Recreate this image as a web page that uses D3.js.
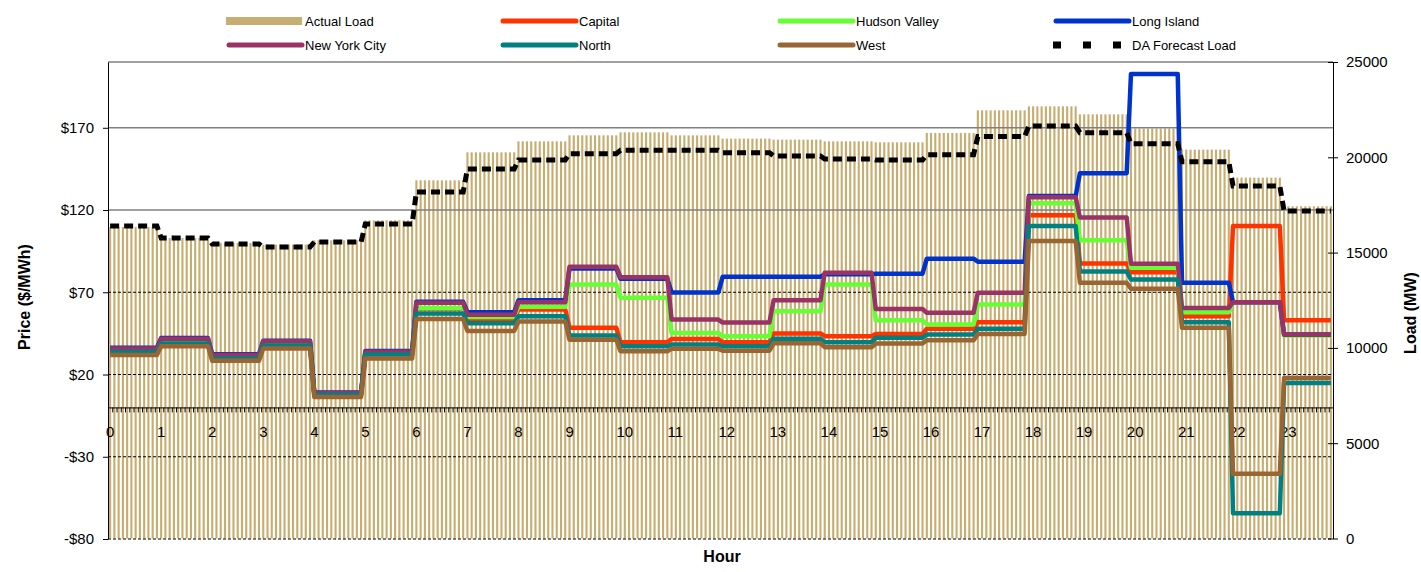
<!DOCTYPE html>
<html>
<head>
<meta charset="utf-8">
<title>Zonal Prices and Load by Hour</title>
<script src="https://cdn.jsdelivr.net/npm/d3@7"></script>
<style>
body {margin: 0; background: #fff;}
svg text {font-family: "Liberation Sans", Arial, sans-serif; fill: #000;}
</style>
</head>
<body>
<svg id="chart" width="1421" height="572"></svg>
<script>
// hourly data, each hour is shown as 12 five-minute intervals
var hours = [0,1,2,3,4,5,6,7,8,9,10,11,12,13,14,15,16,17,18,19,20,21,22,23];
var actualLoad = [16343,15766,15504,15420,15646,16695,18793,20261,20838,21153,21310,21153,20980,20927,20838,20786,21274,22464,22674,22254,21504,20403,18934,17429];
var daForecast = [16396,15766,15452,15294,15557,16500,18179,19385,19857,20192,20366,20366,20245,20067,19910,19857,20140,21085,21641,21294,20717,19773,18494,17182];
var capital = [34.6,40.2,30.8,38.8,8.1,32.8,60.1,53.8,59.5,48.5,39.6,41.6,39.6,45.0,43.3,44.7,47.8,51.8,116.8,87.5,82.2,55.4,110.3,53.0];
var hudsonValley = [34.8,40.5,31.0,39.0,8.3,33.0,60.5,55.0,61.2,74.7,66.6,45.3,43.3,58.5,74.7,53.0,50.4,62.6,124.1,101.6,84.9,57.9,64.0,43.7];
var longIsland = [36.3,42.2,32.3,40.6,9.1,34.3,64.2,57.9,65.2,84.5,78.2,69.9,79.4,79.4,80.9,81.3,90.4,88.6,128.5,142.4,202.7,75.8,64.0,44.3];
var newYorkCity = [35.8,41.7,31.9,40.2,8.8,33.9,63.6,56.3,64.0,85.5,79.2,53.4,51.6,65.2,81.9,59.9,57.5,69.7,127.8,115.4,87.4,60.5,64.0,44.3];
var north = [33.7,38.8,29.7,37.6,7.7,32.1,57.1,51.2,55.4,43.7,37.2,38.2,37.2,41.8,39.6,42.3,44.3,47.9,110.3,82.7,77.8,51.8,-64.3,14.9];
var west = [31.9,37.2,28.3,35.8,6.3,29.7,53.8,46.5,52.2,41.2,34.1,35.6,34.5,39.0,36.6,38.8,40.8,44.7,101.1,75.8,72.1,48.4,-40.4,17.9];
var priceTicks = [-80,-30,20,70,120,170];
var loadTicks = [0,5000,10000,15000,20000,25000];
var intervalsPerHour = 12;

var svg = d3.select("#chart");
var plotLeft = 108, plotRight = 1333, plotTop = 62, plotBottom = 539;
var barColor = "#c8ad70";

var slots = d3.range(hours.length * intervalsPerHour);
var x = d3.scaleBand().domain(slots).range([plotLeft, plotRight]).paddingInner(0.5).paddingOuter(0.25);
var xc = function(i){ return x(i) + x.bandwidth() / 2; };
var xTick = d3.scaleLinear().domain([0, slots.length]).range([plotLeft, plotRight]);
var yP = d3.scaleLinear().domain([-80, 210]).range([plotBottom, plotTop]);
var yL = d3.scaleLinear().domain([0, 25000]).range([538.5, plotTop]);
function hourOf(i){ return Math.floor(i / intervalsPerHour); }

// actual load bars
svg.append("g").selectAll("rect")
    .data(slots)
    .enter().append("rect")
    .attr("x", function(d){ return x(d); })
    .attr("width", x.bandwidth())
    .attr("y", function(d){ return yL(actualLoad[hourOf(d)]); })
    .attr("height", function(d){ return yL(0) - yL(actualLoad[hourOf(d)]); })
    .attr("fill", barColor);

// gridlines
var grid = svg.append("g");
priceTicks.forEach(function(t){
    var solid = t >= 120;
    grid.append("line")
        .attr("x1", plotLeft).attr("x2", plotRight)
        .attr("y1", yP(t)).attr("y2", yP(t))
        .attr("stroke", solid ? "#808080" : "#000")
        .attr("stroke-width", solid ? 1.5 : 1)
        .attr("stroke-dasharray", solid ? null : "3,2");
});
grid.append("line")
    .attr("x1", plotLeft).attr("x2", plotRight)
    .attr("y1", plotTop).attr("y2", plotTop)
    .attr("stroke", "#808080").attr("stroke-width", 1.5);

// zero line with interval ticks
var zeroAxis = svg.append("g")
    .attr("transform", "translate(0," + yP(0) + ")")
    .call(d3.axisBottom(xTick).tickValues(d3.range(slots.length + 1)).tickSize(5).tickSizeOuter(0).tickFormat(""));
zeroAxis.select(".domain").attr("stroke", "#000");

// hour labels
svg.append("g").selectAll("text")
    .data(hours)
    .enter().append("text")
    .attr("x", function(d){ return xTick(d * intervalsPerHour) - 2; })
    .attr("y", 437)
    .style("font-size", "15px")
    .text(function(d){ return d; });

// price lines
var series = [
    {name: "Capital", values: capital, color: "#ff3300"},
    {name: "Hudson Valley", values: hudsonValley, color: "#66ff33"},
    {name: "Long Island", values: longIsland, color: "#0033cc"},
    {name: "New York City", values: newYorkCity, color: "#993366"},
    {name: "North", values: north, color: "#008080"},
    {name: "West", values: west, color: "#996633"}
];
series.forEach(function(s){
    var line = d3.line()
        .x(function(i){ return xc(i); })
        .y(function(i){ return yP(s.values[hourOf(i)]); });
    svg.append("path")
        .datum(slots)
        .attr("d", line)
        .attr("fill", "none")
        .attr("stroke", s.color)
        .attr("stroke-width", 4.5)
        .attr("stroke-linejoin", "round");
});

// DA forecast
var daLine = d3.line()
    .x(function(i){ return xc(i); })
    .y(function(i){ return yL(daForecast[hourOf(i)]); });
svg.append("path")
    .datum(slots)
    .attr("d", daLine)
    .attr("fill", "none")
    .attr("stroke", "#000")
    .attr("stroke-width", 5)
    .attr("stroke-dasharray", "9,5");

// axes
var leftAxis = svg.append("g")
    .attr("transform", "translate(" + plotLeft + ",0)")
    .call(d3.axisLeft(yP).tickValues(priceTicks).tickSize(5).tickSizeOuter(0).tickPadding(9)
        .tickFormat(function(d){ return (d < 0 ? "-$" : "$") + Math.abs(d); }));
leftAxis.selectAll("text").style("font-size", "15px");
leftAxis.selectAll("line, path").attr("stroke", "#000");

var rightAxis = svg.append("g")
    .attr("transform", "translate(" + plotRight + ",0)")
    .call(d3.axisRight(yL).tickValues(loadTicks).tickSize(5).tickSizeOuter(0).tickPadding(8).tickFormat(d3.format("d")));
rightAxis.selectAll(".tick line").attr("x1", -5);
rightAxis.selectAll("text").style("font-size", "15px");
rightAxis.selectAll("line, path").attr("stroke", "#000");

// axis titles
svg.append("text")
    .attr("transform", "translate(30,297) rotate(-90)")
    .attr("text-anchor", "middle")
    .style("font-size", "16px").style("font-weight", "bold")
    .text("Price ($/MWh)");
svg.append("text")
    .attr("transform", "translate(1416,313) rotate(-90)")
    .attr("text-anchor", "middle")
    .style("font-size", "16px").style("font-weight", "bold")
    .text("Load (MW)");
svg.append("text")
    .attr("x", 722).attr("y", 562)
    .attr("text-anchor", "middle")
    .style("font-size", "16px").style("font-weight", "bold")
    .text("Hour");

// legend
var legendItems = [{name: "Actual Load", type: "bar", color: barColor}]
    .concat(series.map(function(s){ return {name: s.name, type: "line", color: s.color}; }))
    .concat([{name: "DA Forecast Load", type: "dash", color: "#000"}]);
var legendX = [226, 500, 777, 1053], legendY = [21, 45];
var legend = svg.append("g");
legendItems.forEach(function(item, i){
    var lx = legendX[i % 4], ly = legendY[Math.floor(i / 4)];
    if (item.type == "bar") {
        legend.append("rect").attr("x", lx).attr("y", ly - 4).attr("width", 76).attr("height", 8).attr("fill", item.color);
    } else if (item.type == "line") {
        legend.append("line").attr("x1", lx + 3).attr("x2", lx + 76).attr("y1", ly).attr("y2", ly)
            .attr("stroke", item.color).attr("stroke-width", 5).attr("stroke-linecap", "round");
    } else {
        legend.append("line").attr("x1", lx).attr("x2", lx + 72).attr("y1", ly).attr("y2", ly)
            .attr("stroke", item.color).attr("stroke-width", 7).attr("stroke-dasharray", "8,22");
    }
    legend.append("text").attr("x", lx + 79).attr("y", ly + 5).style("font-size", "13px").text(item.name);
});
</script>
</body>
</html>
